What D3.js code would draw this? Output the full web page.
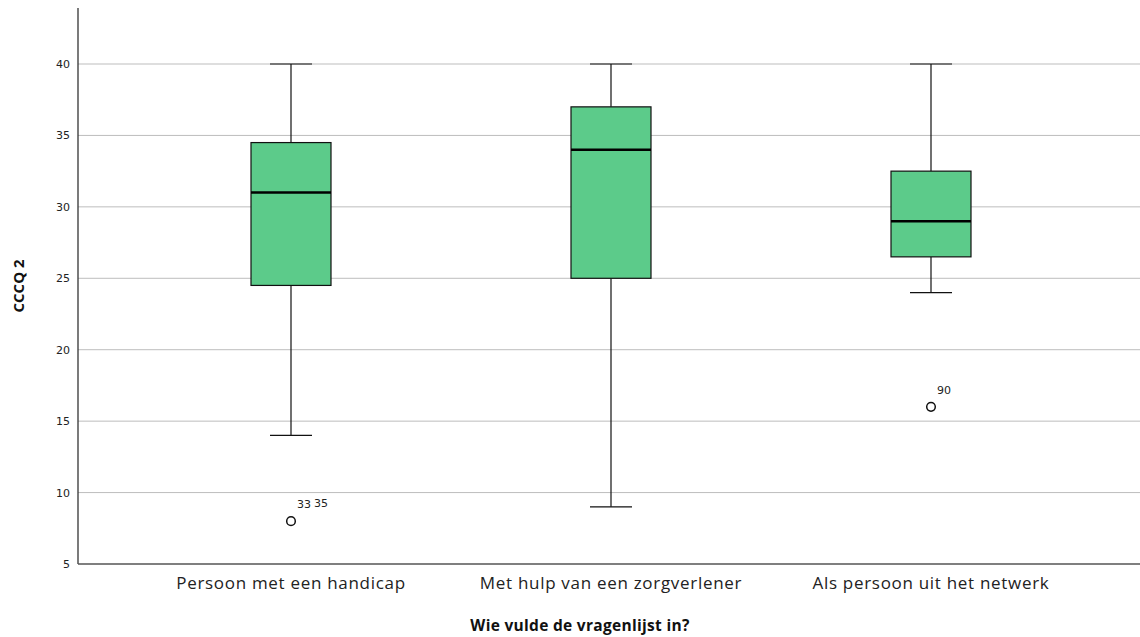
<!DOCTYPE html>
<html>
<head>
<meta charset="utf-8">
<script src="https://cdn.jsdelivr.net/npm/d3@7"></script>
<style>
  html, body { margin: 0; padding: 0; background: #fff; }
  svg { display: block; }
</style>
</head>
<body>
<svg id="chart" width="1140" height="637"></svg>
<script>
// Respondent groups and box-plot summaries for CCCQ 2
const categories = ["Persoon met een handicap", "Met hulp van een zorgverlener", "Als persoon uit het netwerk"];
const whiskerLow  = [14, 9, 24];
const q1          = [24.5, 25, 26.5];
const median      = [31, 34, 29];
const q3          = [34.5, 37, 32.5];
const whiskerHigh = [40, 40, 40];
// Outliers: group index, value, case labels
const outlierGroup  = [0, 2];
const outlierValue  = [8, 16];
const outlierLabels = [["33", "35"], ["90"]];
const yTicks = [5, 10, 15, 20, 25, 30, 35, 40];

const svg = d3.select("#chart");
const W = 1140, H = 637;
const axisX = 78, axisTop = 8, axisBottom = 564;

const x = d3.scaleBand().domain(categories).range([131, 1091]).padding(0);
const y = d3.scaleLinear().domain([5, 43.92]).range([axisBottom, axisTop]);

// gridlines
svg.append("g").selectAll("line").data(yTicks.filter(t => t > 5)).join("line")
  .attr("x1", axisX).attr("x2", W)
  .attr("y1", d => y(d)).attr("y2", d => y(d))
  .attr("stroke", "#bdbdbd").attr("stroke-width", 1);

// y axis
const yAxis = d3.axisLeft(y).tickValues(yTicks).tickSize(0).tickPadding(8);
const gy = svg.append("g").attr("transform", `translate(${axisX},0)`).call(yAxis);
gy.select(".domain").remove();
gy.selectAll("text").attr("font-family", "DejaVu Sans").attr("font-size", 11).attr("fill", "#222");

svg.append("line").attr("x1", axisX).attr("x2", axisX).attr("y1", axisTop).attr("y2", axisBottom)
  .attr("stroke", "#333").attr("stroke-width", 1.3);

// x axis
const xAxis = d3.axisBottom(x).tickSize(0).tickPadding(13);
const gx = svg.append("g").attr("transform", `translate(0,${axisBottom})`).call(xAxis);
gx.select(".domain").remove();
gx.selectAll("text").attr("font-family", "Open Sans").attr("font-size", 17)
  .attr("letter-spacing", "0.7px").attr("fill", "#222");

svg.append("line").attr("x1", axisX).attr("x2", W).attr("y1", axisBottom).attr("y2", axisBottom)
  .attr("stroke", "#555").attr("stroke-width", 1.5);

// boxes
const boxW = 80, capW = 42;
const groups = svg.append("g").selectAll("g").data(categories).join("g")
  .attr("transform", d => `translate(${x(d) + x.bandwidth() / 2},0)`);

groups.append("line") // upper whisker
  .attr("x1", 0).attr("x2", 0)
  .attr("y1", (d, i) => y(whiskerHigh[i])).attr("y2", (d, i) => y(q3[i]))
  .attr("stroke", "#111").attr("stroke-width", 1.2);
groups.append("line") // lower whisker
  .attr("x1", 0).attr("x2", 0)
  .attr("y1", (d, i) => y(q1[i])).attr("y2", (d, i) => y(whiskerLow[i]))
  .attr("stroke", "#111").attr("stroke-width", 1.2);
groups.append("line")
  .attr("x1", -capW / 2).attr("x2", capW / 2)
  .attr("y1", (d, i) => y(whiskerHigh[i])).attr("y2", (d, i) => y(whiskerHigh[i]))
  .attr("stroke", "#111").attr("stroke-width", 1.2);
groups.append("line")
  .attr("x1", -capW / 2).attr("x2", capW / 2)
  .attr("y1", (d, i) => y(whiskerLow[i])).attr("y2", (d, i) => y(whiskerLow[i]))
  .attr("stroke", "#111").attr("stroke-width", 1.2);
groups.append("rect")
  .attr("x", -boxW / 2).attr("width", boxW)
  .attr("y", (d, i) => y(q3[i])).attr("height", (d, i) => y(q1[i]) - y(q3[i]))
  .attr("fill", "#5ccb8a").attr("stroke", "#111").attr("stroke-width", 1.2);
groups.append("line")
  .attr("x1", -boxW / 2).attr("x2", boxW / 2)
  .attr("y1", (d, i) => y(median[i])).attr("y2", (d, i) => y(median[i]))
  .attr("stroke", "#000").attr("stroke-width", 2.5);

// outliers
outlierGroup.forEach((g, k) => {
  const cx = x(categories[g]) + x.bandwidth() / 2;
  const cy = y(outlierValue[k]);
  svg.append("circle").attr("cx", cx).attr("cy", cy).attr("r", 4.3)
    .attr("fill", "#fff").attr("stroke", "#111").attr("stroke-width", 1.5);
  outlierLabels[k].forEach((lab, j) => {
    svg.append("text").attr("x", cx + 6 + j * 17).attr("y", cy - 13 - j)
      .attr("font-family", "DejaVu Sans").attr("font-size", 11).attr("fill", "#222")
      .text(lab);
  });
});

// axis titles
svg.append("text").attr("x", 580).attr("y", 631).attr("text-anchor", "middle")
  .attr("font-family", "Open Sans").attr("font-weight", "bold").attr("font-size", 15.5)
  .attr("letter-spacing", "0.3px").attr("fill", "#111")
  .text("Wie vulde de vragenlijst in?");
svg.append("text").attr("transform", "translate(24,286) rotate(-90)").attr("text-anchor", "middle")
  .attr("font-family", "Open Sans").attr("font-weight", "bold").attr("font-size", 15).attr("fill", "#111")
  .text("CCCQ 2");
</script>
</body>
</html>
